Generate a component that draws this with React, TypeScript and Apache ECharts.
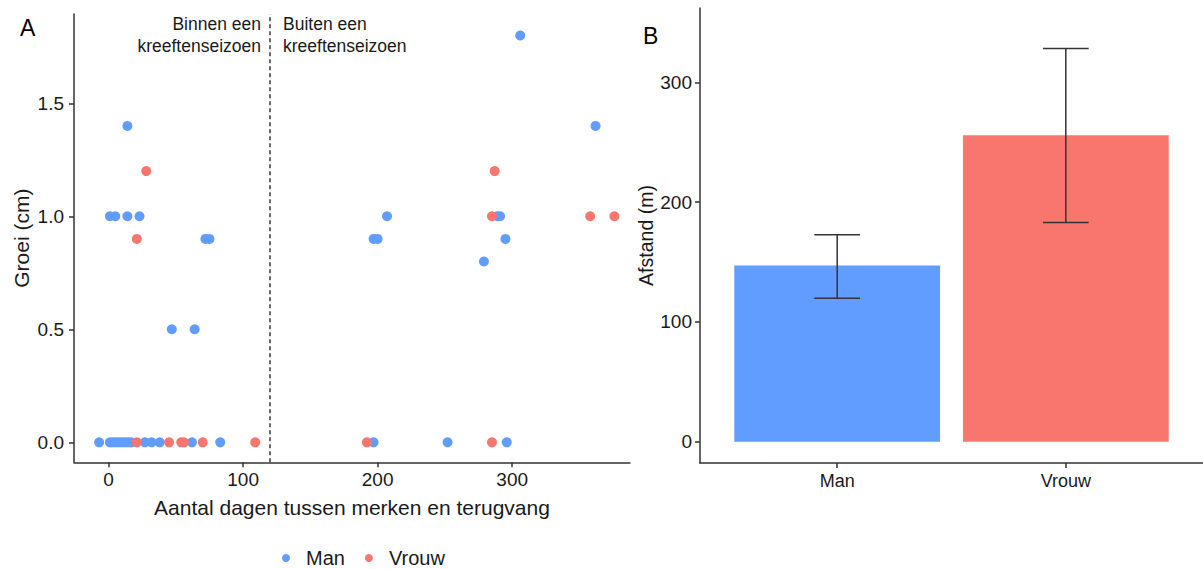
import React, { useEffect, useRef } from "react";
import * as echarts from "echarts";

const FONT = "'Liberation Sans', Arial, sans-serif";

// Panel A: scatter data [days, growth]
const manPoints: number[][] = [
  [-7, 0], [1, 0], [3, 0], [5, 0], [7, 0], [9, 0], [11, 0], [13, 0], [15, 0], [17, 0],
  [27, 0], [32, 0], [38, 0], [62, 0], [83, 0], [197, 0], [252, 0], [296, 0],
  [14, 1.4], [1, 1.0], [5, 1.0], [14, 1.0], [23, 1.0], [72, 0.9], [75, 0.9],
  [47, 0.5], [64, 0.5],
  [306, 1.8], [362, 1.4], [207, 1.0], [289, 1.0], [291, 1.0], [197, 0.9], [200, 0.9],
  [295, 0.9], [279, 0.8],
];
const vrouwPoints: number[][] = [
  [21, 0], [45, 0], [54, 0], [56, 0], [70, 0], [109, 0], [192, 0], [285, 0],
  [28, 1.2], [21, 0.9], [287, 1.2], [285, 1.0], [358, 1.0], [376, 1.0],
];
const seasonBoundary = 120;
const xTicksA = [0, 100, 200, 300];
const yTicksA = [0, 0.5, 1.0, 1.5];

// Panel B: bars with error bars
const sexes = ["Man", "Vrouw"];
const meanDistance = [147.1, 255.7];
const errLow = [119.8, 183.0];
const errHigh = [172.7, 328.1];
const yTicksB = [0, 100, 200, 300];

const BLUE = "#619CFF";
const RED = "#F8766D";
const AXIS = "#333333";
const TXT = "#1a1a1a";

export default function App() {
  const ref = useRef<HTMLDivElement>(null);
  useEffect(() => {
    document.body.style.margin = "0";
    if (!ref.current) return;
    const chart = echarts.init(ref.current, null, { renderer: "svg" });

    const axisLineStyle = { lineStyle: { color: AXIS, width: 1.5 } };
    const axisTickStyle = { lineStyle: { color: AXIS, width: 1.5 }, length: 5 };

    const option: any = {
      animation: false,
      backgroundColor: "#ffffff",
      textStyle: { fontFamily: FONT },
      grid: [
        { left: 74, top: 14, width: 556, height: 448.3 },
        { left: 700, top: 8, width: 507.5, height: 455 },
      ],
      xAxis: [
        {
          gridIndex: 0,
          type: "value",
          min: -25.7,
          max: 387.6,
          splitLine: { show: false },
          axisLine: { show: true, onZero: false, ...axisLineStyle },
          axisTick: { show: true, customValues: xTicksA, ...axisTickStyle },
          axisLabel: { customValues: xTicksA, fontSize: 19, color: TXT, margin: 8, fontFamily: FONT },
          name: "Aantal dagen tussen merken en terugvang",
          nameLocation: "middle",
          nameGap: 35,
          nameTextStyle: { fontSize: 21, color: TXT, fontFamily: FONT },
        },
        {
          gridIndex: 1,
          type: "value",
          min: 0.4,
          max: 2.6,
          splitLine: { show: false },
          axisLine: { show: true, onZero: false, ...axisLineStyle },
          axisTick: { show: true, customValues: [1, 2], ...axisTickStyle },
          axisLabel: {
            customValues: [1, 2],
            formatter: (v: number) => sexes[Math.round(v) - 1] ?? "",
            fontSize: 18,
            color: TXT,
            margin: 9,
            fontFamily: FONT,
          },
        },
      ],
      yAxis: [
        {
          gridIndex: 0,
          type: "value",
          min: -0.0885,
          max: 1.895,
          splitLine: { show: false },
          axisLine: { show: true, onZero: false, ...axisLineStyle },
          axisTick: { show: true, customValues: yTicksA, ...axisTickStyle },
          axisLabel: {
            customValues: yTicksA,
            formatter: (v: number) => v.toFixed(1),
            fontSize: 19,
            color: TXT,
            margin: 10,
            fontFamily: FONT,
          },
          name: "Groei (cm)",
          nameLocation: "middle",
          nameGap: 42,
          nameTextStyle: { fontSize: 21, color: TXT, fontFamily: FONT },
        },
        {
          gridIndex: 1,
          type: "value",
          min: -17.8,
          max: 362,
          splitLine: { show: false },
          axisLine: { show: true, onZero: false, ...axisLineStyle },
          axisTick: { show: true, customValues: yTicksB, ...axisTickStyle },
          axisLabel: { customValues: yTicksB, fontSize: 19, color: TXT, margin: 8, fontFamily: FONT },
          name: "Afstand (m)",
          nameLocation: "middle",
          nameGap: 43,
          nameTextStyle: { fontSize: 19.5, color: TXT, fontFamily: FONT },
        },
      ],
      legend: {
        data: ["Man", "Vrouw"],
        left: 277,
        top: 543,
        padding: 5,
        icon: "circle",
        itemWidth: 8,
        itemHeight: 8,
        itemGap: 20,
        textStyle: { fontSize: 20, color: TXT, fontFamily: FONT, padding: [0, 0, 0, 11], lineHeight: 20 },
        selectedMode: false,
      },
      series: [
        {
          name: "Man",
          type: "scatter",
          xAxisIndex: 0,
          yAxisIndex: 0,
          data: manPoints,
          symbolSize: 10,
          itemStyle: { color: BLUE, opacity: 1 },
          markLine: {
            silent: true,
            symbol: "none",
            label: { show: false },
            lineStyle: { type: [4, 3], color: "#444", width: 1.6 },
            data: [{ xAxis: seasonBoundary }],
          },
        },
        {
          name: "Vrouw",
          type: "scatter",
          xAxisIndex: 0,
          yAxisIndex: 0,
          data: vrouwPoints,
          symbolSize: 10,
          itemStyle: { color: RED, opacity: 1 },
        },
        {
          name: "bars",
          type: "custom",
          xAxisIndex: 1,
          yAxisIndex: 1,
          data: meanDistance.map((v, i) => [i + 1, v, i]),
          renderItem: (params: any, api: any) => {
            const x = api.value(0);
            const y = api.value(1);
            const idx = api.value(2);
            const p0 = api.coord([x - 0.45, y]);
            const p1 = api.coord([x + 0.45, 0]);
            return {
              type: "rect",
              shape: { x: p0[0], y: p0[1], width: p1[0] - p0[0], height: p1[1] - p0[1] },
              style: { fill: idx === 0 ? BLUE : RED },
            };
          },
        },
        {
          name: "errors",
          type: "custom",
          xAxisIndex: 1,
          yAxisIndex: 1,
          data: meanDistance.map((_, i) => [i + 1, errLow[i], errHigh[i]]),
          renderItem: (params: any, api: any) => {
            const x = api.value(0);
            const lo = api.value(1);
            const hi = api.value(2);
            const top = api.coord([x, hi]);
            const bot = api.coord([x, lo]);
            const capL = api.coord([x - 0.1, hi]);
            const capR = api.coord([x + 0.1, hi]);
            const capL2 = api.coord([x - 0.1, lo]);
            const capR2 = api.coord([x + 0.1, lo]);
            const style = { stroke: "#333", lineWidth: 1.5 };
            return {
              type: "group",
              children: [
                { type: "line", shape: { x1: top[0], y1: top[1], x2: bot[0], y2: bot[1] }, style },
                { type: "line", shape: { x1: capL[0], y1: capL[1], x2: capR[0], y2: capR[1] }, style },
                { type: "line", shape: { x1: capL2[0], y1: capL2[1], x2: capR2[0], y2: capR2[1] }, style },
              ],
            };
          },
        },
      ],
      graphic: [
        {
          type: "text",
          left: 20,
          top: 16,
          style: { text: "A", fontSize: 23, fill: "#000", fontFamily: FONT },
        },
        {
          type: "text",
          left: 643,
          top: 24,
          style: { text: "B", fontSize: 23, fill: "#000", fontFamily: FONT },
        },
        {
          type: "text",
          x: 261,
          y: 13,
          style: {
            text: "Binnen een\nkreeftenseizoen",
            fontSize: 17.5,
            lineHeight: 22,
            align: "right",
            fill: TXT,
            fontFamily: FONT,
          },
        },
        {
          type: "text",
          x: 283,
          y: 13,
          style: {
            text: "Buiten een\nkreeftenseizoen",
            fontSize: 17.5,
            lineHeight: 22,
            align: "left",
            fill: TXT,
            fontFamily: FONT,
          },
        },
      ],
    };
    chart.setOption(option);
    return () => chart.dispose();
  }, []);
  return <div ref={ref} style={{ width: 1203, height: 569 }} />;
}
